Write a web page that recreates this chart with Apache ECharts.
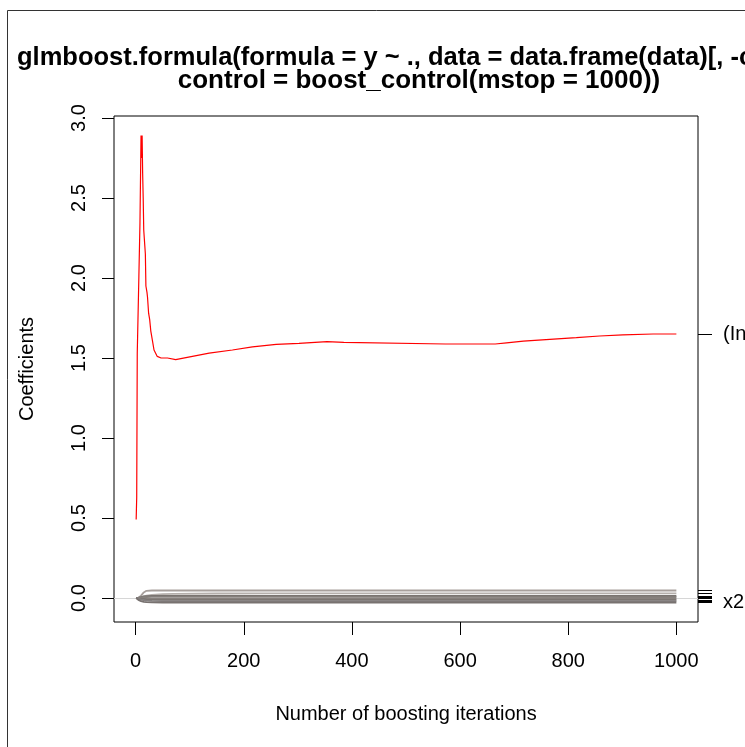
<!DOCTYPE html>
<html>
<head>
<meta charset="utf-8">
<script src="https://cdn.jsdelivr.net/npm/echarts@6/dist/echarts.min.js"></script>
<style>
  html, body { margin: 0; padding: 0; background: #fff; }
  #main { width: 745px; height: 747px; }
</style>
</head>
<body>
<div id="main"></div>
<script>
// intercept path
var interceptIter = [1, 2, 3, 5, 6, 7, 8, 9, 10, 11, 12, 13, 14, 15, 16, 17, 18, 19, 21, 22, 24, 26, 28, 31, 34, 40, 47, 59, 74,
  105, 136, 179, 216, 260, 302, 354, 385, 573, 665, 686, 717, 766, 815, 858, 901, 957, 1000];
var interceptCoef = [0.49, 0.63, 1.53, 1.53, 2.01, 2.01, 2.34, 2.34, 2.89, 2.75, 2.89, 2.65, 2.5, 2.3, 2.25, 2.2, 2.15, 1.95, 1.91, 1.88, 1.78, 1.74, 1.67, 1.61, 1.55, 1.51, 1.50, 1.50, 1.49,
  1.51, 1.53, 1.55, 1.57, 1.585, 1.592, 1.602, 1.598, 1.5875, 1.5875, 1.595, 1.606, 1.617, 1.627, 1.6375, 1.644, 1.65, 1.65];

// the other coefficient paths (all close to zero)
var grayIter = [1, 5, 10, 15, 20, 30, 50, 70, 150, 250, 1000];
var gray1 = [0, 0, 0.015, 0.035, 0.045, 0.047, 0.047, 0.047, 0.047, 0.047, 0.047];
var gray2 = [0, 0, 0.005, 0.01, 0.015, 0.02, 0.024, 0.026, 0.028, 0.029, 0.029];
var gray3 = [0, 0.002, 0.006, 0.01, 0.012, 0.0125, 0.0125, 0.0125, 0.0125, 0.0125, 0.0125];
var gray4 = [0, 0.001, 0.003, 0.005, 0.006, 0.007, 0.007, 0.007, 0.007, 0.007, 0.006];
var gray5 = [0, -0.001, -0.002, -0.003, -0.004, -0.005, -0.005, -0.005, -0.005, -0.005, -0.004];
var gray6 = [0, -0.002, -0.004, -0.006, -0.008, -0.01, -0.011, -0.011, -0.011, -0.011, -0.011];
var gray7 = [0, -0.004, -0.01, -0.014, -0.016, -0.018, -0.019, -0.019, -0.019, -0.019, -0.019];
var gray8 = [0, -0.012, -0.02, -0.024, -0.026, -0.027, -0.028, -0.028, -0.028, -0.028, -0.028];
var grayPaths = [gray1, gray2, gray3, gray4, gray5, gray6, gray7, gray8];
var grayColors = ['#a8a09c', '#b5afab', '#7a7470', '#857f7b', '#8c8682', '#7c7672', '#848080', '#787270'];

var xTicks = [0, 200, 400, 600, 800, 1000];
var yTicks = [0, 0.5, 1, 1.5, 2, 2.5, 3];
var titleLine1 = 'glmboost.formula(formula = y ~ ., data = data.frame(data)[, -c(1)],';
var titleLine2 = 'control = boost_control(mstop = 1000))';

var FONT = '"Liberation Sans", Arial, sans-serif';

function pairs(xs, ys) {
  return xs.map(function (x, i) { return [x, ys[i]]; });
}

var interceptEnd = interceptCoef[interceptCoef.length - 1];
var grayEnds = grayPaths.map(function (p) { return p[p.length - 1]; });
var lowestEnd = Math.min.apply(null, grayEnds);
var rightLabels = {};
rightLabels[interceptEnd] = '(Intercept)';
rightLabels[lowestEnd] = 'x2';

var chart = echarts.init(document.getElementById('main'));

var series = grayPaths.map(function (p, i) {
  return {
    type: 'line',
    data: pairs(grayIter, p),
    showSymbol: false,
    lineStyle: {color: grayColors[i], width: 1.8},
    z: 3
  };
});
series[0].markLine = {
  silent: true,
  symbol: 'none',
  label: {show: false},
  lineStyle: {color: '#d6d6d6', type: 'solid', width: 1},
  data: [{yAxis: 0}],
  z: 1
};
series.push({
  type: 'line',
  data: pairs(interceptIter, interceptCoef),
  showSymbol: false,
  lineStyle: {color: '#ff0000', width: 1.2},
  z: 5
});

chart.setOption({
  animation: false,
  backgroundColor: '#fff',
  graphic: [
    {type: 'rect', shape: {x: 7.5, y: 10.5, width: 900, height: 900}, style: {fill: 'none', stroke: '#333', lineWidth: 1}},
    {type: 'text', x: 17, y: 58, style: {text: titleLine1, font: 'bold 25.5px ' + FONT, fill: '#000', textAlign: 'left', textVerticalAlign: 'middle'}},
    {type: 'text', x: 419, y: 81, style: {text: titleLine2, font: 'bold 26px ' + FONT, fill: '#000', textAlign: 'center', textVerticalAlign: 'middle'}}
  ],
  grid: {
    left: 114, top: 116, width: 584, height: 506,
    outerBoundsMode: 'none',
    containLabel: false,
    show: true, borderColor: '#000', borderWidth: 1
  },
  xAxis: {
    type: 'value',
    min: -40, max: 1040,
    name: 'Number of boosting iterations',
    nameLocation: 'middle',
    nameGap: 82,
    nameTextStyle: {fontFamily: FONT, fontSize: 20, color: '#000'},
    axisLine: {show: false, onZero: false},
    splitLine: {show: false},
    axisTick: {show: true, length: 13, lineStyle: {color: '#000'}, customValues: xTicks},
    axisLabel: {fontFamily: FONT, fontSize: 20, color: '#000', margin: 29, customValues: xTicks,
      formatter: function (v) { return String(v); }}
  },
  yAxis: [{
    type: 'value',
    min: -0.15, max: 3.0125,
    name: 'Coefficients',
    nameLocation: 'middle',
    nameGap: 77,
    nameTextStyle: {fontFamily: FONT, fontSize: 20, color: '#000'},
    axisLine: {show: false, onZero: false},
    splitLine: {show: false},
    axisTick: {show: true, length: 12, lineStyle: {color: '#000'}, customValues: yTicks},
    axisLabel: {fontFamily: FONT, fontSize: 20, color: '#000', rotate: 90, margin: 25, customValues: yTicks,
      formatter: function (v) { return v.toFixed(1); }}
  }, {
    type: 'value',
    position: 'right',
    min: -0.15, max: 3.0125,
    axisLine: {show: false, onZero: false},
    splitLine: {show: false},
    axisTick: {show: true, length: 14, lineStyle: {color: '#000'}, customValues: [interceptEnd].concat(grayEnds)},
    axisLabel: {fontFamily: FONT, fontSize: 20, color: '#000', margin: 25, customValues: [interceptEnd, lowestEnd],
      formatter: function (v) { return rightLabels[v] || ''; }}
  }],
  series: series
});
</script>
</body>
</html>
